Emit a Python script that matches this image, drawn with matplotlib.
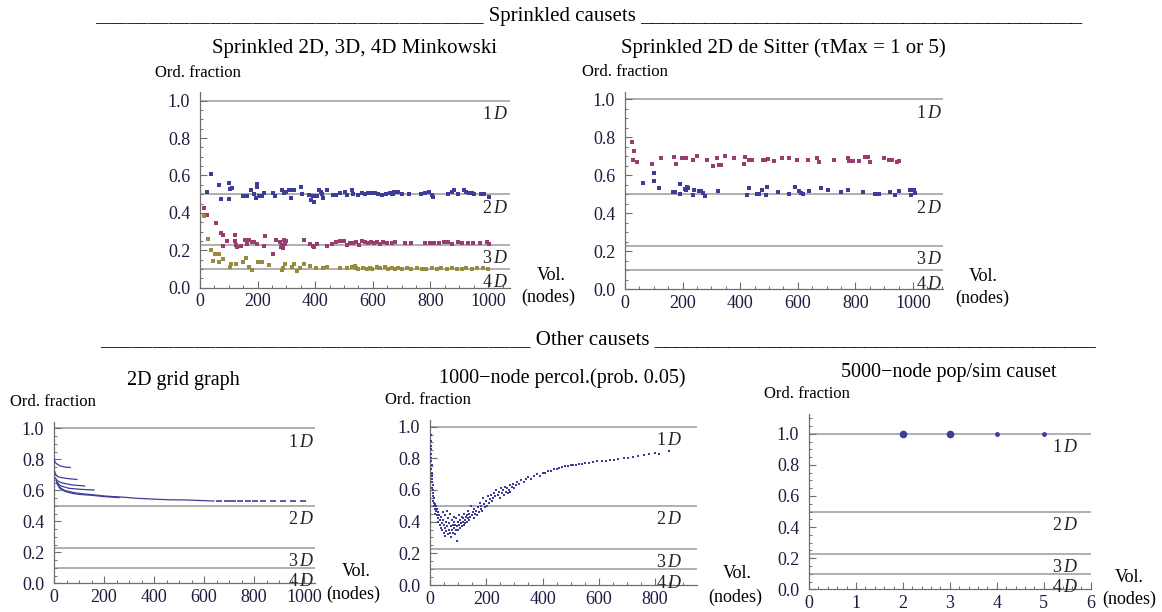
import matplotlib
matplotlib.use("Agg")
import matplotlib.pyplot as plt
from matplotlib.ticker import MultipleLocator, FormatStrFormatter, FixedLocator

plt.rcParams['font.family'] = ['Liberation Serif', 'DejaVu Serif']
plt.rcParams['mathtext.fontset'] = 'custom'
plt.rcParams['mathtext.rm'] = 'Liberation Serif'
plt.rcParams['mathtext.it'] = 'Liberation Serif:italic'

# ---------------- data ----------------
dim_levels = [1.0, 0.5, 0.2286, 0.1]
dim_labels = ['1', '2', '3', '4']

mink2 = [(25,0.51),(38,0.61),(67,0.55),(72,0.475),(99,0.56),(99,0.475),(105,0.53),(111,0.535),
         (148,0.49),(162,0.49),(176,0.52),(187,0.50),(197,0.555),(198,0.54),(194,0.48),(206,0.49),
         (215,0.49),(222,0.505),(254,0.505),(260,0.49),(283,0.52),(291,0.505),(298,0.51),(310,0.52),
         (317,0.48),(321,0.525),(326,0.525),(349,0.54),(354,0.50),(379,0.495),(384,0.47),(393,0.49),
         (396,0.46),(405,0.49),(414,0.525),(421,0.51),(423,0.50),(426,0.48),(442,0.525),(463,0.495),
         (472,0.495),(486,0.505),(503,0.51),(509,0.495),(526,0.525),(532,0.50),(547,0.495),(561,0.505),
         (572,0.50),(584,0.505),(595,0.505),(607,0.505),(619,0.50),(632,0.495),(644,0.50),(659,0.505),
         (665,0.50),(671,0.50),(674,0.51),(688,0.51),(700,0.50),(725,0.50),(767,0.50),(781,0.505),
         (794,0.51),(804,0.495),(810,0.485),(862,0.50),(873,0.51),(882,0.52),(896,0.50),(917,0.52),
         (925,0.51),(933,0.505),(943,0.505),(952,0.50),(975,0.50),(987,0.50),(1003,0.485)]

mink3 = [(14,0.425),(25,0.39),(55,0.345),(72,0.295),(81,0.28),(81,0.225),(95,0.25),(121,0.28),
         (122,0.25),(124,0.23),(127,0.22),(144,0.225),(156,0.255),(162,0.235),(171,0.255),(179,0.245),
         (187,0.245),(197,0.235),(222,0.225),(226,0.275),(254,0.18),(263,0.255),(277,0.245),(280,0.22),
         (283,0.23),(287,0.21),(291,0.255),(294,0.235),(298,0.25),(361,0.255),(382,0.235),(391,0.225),
         (396,0.215),(407,0.235),(440,0.225),(457,0.235),(472,0.245),(486,0.25),(500,0.25),(509,0.23),
         (521,0.24),(532,0.237),(543,0.245),(551,0.228),(561,0.249),(572,0.242),(584,0.237),(595,0.245),
         (605,0.237),(613,0.245),(624,0.231),(636,0.242),(648,0.237),(665,0.237),(676,0.242),(711,0.237),
         (734,0.237),(781,0.237),(798,0.237),(813,0.237),(829,0.237),(848,0.242),(862,0.242),(873,0.231),
         (894,0.242),(908,0.237),(931,0.237),(948,0.237),(972,0.237),(995,0.242),(1003,0.231)]

mink4 = [(14,0.385),(29,0.26),(37,0.20),(44,0.145),(52,0.18),(67,0.18),(67,0.14),(81,0.155),
         (104,0.11),(106,0.125),(124,0.125),(150,0.135),(159,0.16),(171,0.11),(179,0.095),(202,0.14),
         (216,0.135),(240,0.12),(283,0.095),(289,0.105),(295,0.125),(321,0.11),(326,0.125),(338,0.09),
         (347,0.105),(361,0.125),(382,0.115),(403,0.105),(426,0.105),(440,0.11),(486,0.105),(509,0.105),
         (526,0.11),(538,0.115),(540,0.106),(549,0.102),(567,0.106),(578,0.099),(590,0.106),(598,0.099),
         (613,0.111),(624,0.106),(642,0.111),(653,0.102),(665,0.106),(676,0.099),(688,0.106),(700,0.102),
         (717,0.106),(734,0.102),(752,0.106),(769,0.102),(786,0.099),(804,0.106),(821,0.099),(838,0.106),
         (856,0.102),(873,0.106),(891,0.102),(908,0.099),(925,0.106),(943,0.102),(960,0.106),(983,0.106),
         (998,0.099)]

ds_tau1 = [(64,0.561),(102,0.612),(102,0.568),(117,0.533),(168,0.51),(174,0.51),(191,0.503),(191,0.554),
           (208,0.53),(211,0.524),(214,0.54),(220,0.535),(235,0.496),(240,0.524),(257,0.517),(264,0.517),
           (270,0.507),(278,0.49),(324,0.519),(422,0.496),(432,0.533),(457,0.503),(464,0.503),(474,0.524),
           (488,0.496),(493,0.538),(530,0.51),(568,0.503),(590,0.538),(604,0.519),(611,0.507),(617,0.503),
           (639,0.519),(679,0.533),(704,0.524),(750,0.51),(774,0.524),(826,0.51),(867,0.503),(883,0.503),
           (920,0.51),(938,0.495),(952,0.519),(989,0.524),(994,0.496),(1003,0.524),(1007,0.507)]

ds_tau5 = [(23,0.775),(31,0.726),(27,0.682),(41,0.668),(93,0.661),(126,0.691),(171,0.696),(177,0.661),
           (197,0.691),(205,0.691),(212,0.691),(235,0.682),(249,0.703),(286,0.682),(304,0.647),(318,0.691),
           (327,0.654),(335,0.654),(347,0.703),(379,0.691),(413,0.661),(418,0.696),(432,0.682),(441,0.682),
           (478,0.682),(486,0.682),(498,0.687),(516,0.675),(544,0.691),(568,0.691),(596,0.682),(634,0.682),
           (665,0.691),(674,0.668),(727,0.682),(773,0.691),(779,0.675),(793,0.675),(813,0.675),(834,0.696),
           (843,0.696),(849,0.668),(900,0.691),(918,0.682),(926,0.682),(943,0.668),(952,0.675)]

grid_a = [(1,0.80),(5,0.78),(12,0.77),(25,0.757),(45,0.75),(65,0.748)]
grid_b = [(3,0.72),(8,0.70),(15,0.688),(30,0.682),(55,0.676),(92,0.67)]
grid_c = [(5,0.68),(12,0.665),(20,0.655),(40,0.645),(72,0.635),(123,0.628)]
grid_d = [(8,0.665),(15,0.645),(28,0.628),(60,0.613),(110,0.606),(160,0.602)]
grid_e = [(10,0.65),(18,0.63),(28,0.613),(45,0.598),(72,0.588),(100,0.58),(125,0.576),(165,0.57),
          (205,0.563),(245,0.559),(285,0.555),(325,0.549),(392,0.544),(460,0.539),(525,0.538),
          (592,0.534),(640,0.531)]
grid_f = [(14,0.64),(22,0.615),(35,0.60),(50,0.59),(75,0.58),(100,0.574),(150,0.568),(205,0.559),
          (260,0.553)]
grid_tail = [(660,0.531),(690,0.531),(717,0.531),(745,0.531),(777,0.531),(805,0.531),(837,0.531),
             (877,0.531),(917,0.531),(957,0.531),(997,0.531)]

percol = [(2,0.95),(3,0.91),(2,0.88),(4,0.86),(3,0.83),(5,0.80),(4,0.78),(6,0.76),(5,0.73),(7,0.71),
          (6,0.69),(8,0.67),(7,0.65),(9,0.63),(8,0.61),(10,0.60),(11,0.58),(10,0.56),(13,0.55),(12,0.53),
          (15,0.52),(14,0.50),(18,0.51),(16,0.48),(20,0.50),(22,0.47),(19,0.45),(25,0.48),(24,0.44),(28,0.46),
          (27,0.42),(30,0.40),(32,0.44),(35,0.38),(36,0.41),(38,0.36),(40,0.43),(42,0.39),(44,0.35),(45,0.46),
          (47,0.41),(48,0.33),(50,0.38),(52,0.44),(54,0.36),(55,0.31),(57,0.40),(58,0.34),(60,0.47),(62,0.37),
          (63,0.32),(65,0.42),(67,0.35),(68,0.39),(70,0.33),(72,0.45),(73,0.37),(75,0.30),(77,0.41),(78,0.35),
          (80,0.38),(82,0.33),(84,0.43),(85,0.36),(87,0.40),(88,0.32),(90,0.38),(92,0.35),(94,0.42),(95,0.28),
          (97,0.37),(99,0.40),(100,0.35),(102,0.44),(104,0.38),(106,0.41),(108,0.36),(110,0.39),(112,0.43),
          (114,0.37),(116,0.40),(118,0.42),(120,0.38),(122,0.45),(124,0.41),(126,0.39),(128,0.43),(130,0.40),
          (132,0.44),(134,0.42),(136,0.47),(138,0.41),(140,0.45),(142,0.43),(145,0.50),(148,0.44),
          (152,0.46),(155,0.42),(158,0.48),(160,0.45),(163,0.47),(166,0.44),(170,0.49),(173,0.46),(176,0.52),
          (180,0.48),(183,0.50),(186,0.47),(190,0.55),(193,0.51),(196,0.49),(200,0.53),(204,0.50),(207,0.56),
          (210,0.52),(214,0.54),(218,0.57),(222,0.53),(225,0.55),(228,0.58),(232,0.56),(236,0.60),(240,0.57),
          (244,0.59),(248,0.55),(252,0.61),(256,0.58),(260,0.60),(263,0.57),(266,0.62),(270,0.59),(273,0.61),
          (276,0.58),(280,0.60),(283,0.63),(286,0.59),(290,0.62),(295,0.64),(300,0.61),(305,0.63),(310,0.65),
          (318,0.64),(325,0.66),(333,0.65),(340,0.67),(350,0.68),(360,0.67),(370,0.69),(380,0.70),(390,0.69),
          (400,0.71),(410,0.71),(420,0.72),(430,0.72),(440,0.73),(450,0.73),(460,0.74),(470,0.745),(480,0.75),
          (490,0.75),(500,0.755),(510,0.76),(520,0.76),(530,0.765),(540,0.765),(550,0.77),(565,0.77),
          (580,0.775),(595,0.78),(610,0.78),(625,0.785),(640,0.79),(655,0.79),(670,0.795),(690,0.80),
          (705,0.80),(720,0.81),(740,0.815),(760,0.82),(780,0.825),(800,0.835),(815,0.83),(850,0.845)]

popsim_x = [2, 3, 4, 5]
popsim_y = [1.0, 1.0, 1.0, 1.0]
popsim_size = [5.5, 5.5, 3.5, 3.5]

# ---------------- style ----------------
BLUE = (0.24, 0.24, 0.6)
PURPLE = (0.6, 0.24, 0.443)
OLIVE = (0.6, 0.547, 0.24)
AXC = '#6e6e6e'
LABC = '#1c1c40'
REFC = '#9a9a9a'

W, H = 1162, 612
fig = plt.figure(figsize=(W/100, H/100), dpi=100)


def ftext(x, y, s, **kw):
    fig.text(x / W, 1 - y / H, s, **kw)


def make_axes(x0, x1, y0, ytop):
    return fig.add_axes([x0 / W, 1 - y0 / H, (x1 - x0) / W, (y0 - ytop) / H])


def setup(ax, xmax, ymax, xmaj, xmin, dlabel_x):
    ax.set_xlim(0, xmax)
    ax.set_ylim(0, ymax)
    for s in ('top', 'right'):
        ax.spines[s].set_visible(False)
    for s in ('left', 'bottom'):
        ax.spines[s].set_color(AXC)
        ax.spines[s].set_linewidth(0.9)
    ax.patch.set_alpha(0)
    ax.xaxis.set_major_locator(MultipleLocator(xmaj))
    ax.xaxis.set_minor_locator(MultipleLocator(xmin))
    ax.yaxis.set_major_locator(FixedLocator([0, 0.2, 0.4, 0.6, 0.8, 1.0]))
    ax.yaxis.set_minor_locator(MultipleLocator(0.05))
    ax.yaxis.set_major_formatter(FormatStrFormatter('%.1f'))
    ax.tick_params(which='both', direction='in', color=AXC, labelcolor=LABC,
                   labelsize=13)
    ax.tick_params(which='major', length=5, width=0.8)
    ax.tick_params(which='minor', length=2.5, width=0.7)
    ax.tick_params(axis='y', pad=7)
    ax.tick_params(axis='x', pad=4)
    for lev, lab in zip(dim_levels, dim_labels):
        ax.axhline(lev, color=REFC, lw=1.1, zorder=1)
        ax.annotate(lab + r'$\,\mathit{D}$', xy=(dlabel_x, lev), xytext=(0, -10),
                    textcoords='offset points', ha='right', va='center',
                    fontsize=13, color='#222222')


def scatter(ax, pts, color, ms=2.2, marker='s', mew=0):
    xs = [p[0] for p in pts]
    ys = [p[1] for p in pts]
    ax.plot(xs, ys, ls='none', marker=marker, ms=ms, mew=mew, color=color,
            zorder=3, clip_on=False)


def line(ax, pts, color, **kw):
    xs = [p[0] for p in pts]
    ys = [p[1] for p in pts]
    ax.plot(xs, ys, color=color, zorder=3, **kw)


# ---- headers ----
ftext(95, 21, '_' * 37 + ' Sprinkled causets ' + '_' * 42, ha='left', va='baseline', fontsize=15)
ftext(100, 344, '_' * 41 + ' Other causets ' + '_' * 42, ha='left', va='baseline', fontsize=15)

# ---- top-left: Minkowski ----
ax1 = make_axes(200, 510, 287.7, 91.7)
setup(ax1, 1076, 1.048, 200, 50, 1070)
scatter(ax1, mink2, BLUE)
scatter(ax1, mink3, PURPLE)
scatter(ax1, mink4, OLIVE)
ftext(355, 48, 'Sprinkled 2D, 3D, 4D Minkowski', ha='center', va='center', fontsize=15)
ftext(155, 73, 'Ord. fraction', ha='left', va='center', fontsize=12)
ftext(551, 275, 'Vol.', ha='center', va='center', fontsize=13)
ftext(548, 297, '(nodes)', ha='center', va='center', fontsize=13)

# ---- top-right: de Sitter ----
ax2 = make_axes(625, 943, 289.3, 91.7)
setup(ax2, 1104, 1.04, 200, 50, 1100)
scatter(ax2, ds_tau1, BLUE)
scatter(ax2, ds_tau5, PURPLE)
ftext(783, 48, 'Sprinkled 2D de Sitter (τMax = 1 or 5)', ha='center', va='center', fontsize=15)
ftext(582, 72, 'Ord. fraction', ha='left', va='center', fontsize=12)
ftext(983, 277, 'Vol.', ha='center', va='center', fontsize=13)
ftext(982, 298, '(nodes)', ha='center', va='center', fontsize=13)

# ---- bottom-left: grid graph ----
ax3 = make_axes(54, 315, 583.3, 421.7)
setup(ax3, 1044, 1.043, 200, 50, 1040)
for g in (grid_a, grid_b, grid_c, grid_d, grid_e, grid_f):
    line(ax3, g, BLUE, lw=0.9)
scatter(ax3, grid_tail, BLUE, ms=5, marker='_', mew=1.2)
ftext(183, 380, '2D grid graph', ha='center', va='center', fontsize=14.5)
ftext(10, 402, 'Ord. fraction', ha='left', va='center', fontsize=12)
ftext(356, 572, 'Vol.', ha='center', va='center', fontsize=13)
ftext(353, 594, '(nodes)', ha='center', va='center', fontsize=13)

# ---- bottom-middle: percolation ----
ax4 = make_axes(430, 696.7, 585, 420)
setup(ax4, 948, 1.042, 200, 50, 896)
scatter(ax4, percol, BLUE, ms=1.5)
ftext(562, 378, '1000\u2212node percol.(prob. 0.05)', ha='center', va='center', fontsize=14.5)
ftext(385, 400, 'Ord. fraction', ha='left', va='center', fontsize=12)
ftext(737, 573, 'Vol.', ha='center', va='center', fontsize=13)
ftext(735, 597, '(nodes)', ha='center', va='center', fontsize=13)

# ---- bottom-right: pop/sim ----
ax5 = make_axes(809, 1090.7, 589.3, 414.3)
setup(ax5, 6, 1.125, 1, 0.2, 5.72)
for x, y, s in zip(popsim_x, popsim_y, popsim_size):
    ax5.plot([x], [y], 'o', ms=s, mew=0, color=BLUE, zorder=3)
ftext(949, 373, '5000\u2212node pop/sim causet', ha='center', va='center', fontsize=14.5)
ftext(764, 394, 'Ord. fraction', ha='left', va='center', fontsize=12)
ftext(1129, 578, 'Vol.', ha='center', va='center', fontsize=13)
ftext(1129, 599, '(nodes)', ha='center', va='center', fontsize=13)

fig.savefig('out.png', dpi=100)
